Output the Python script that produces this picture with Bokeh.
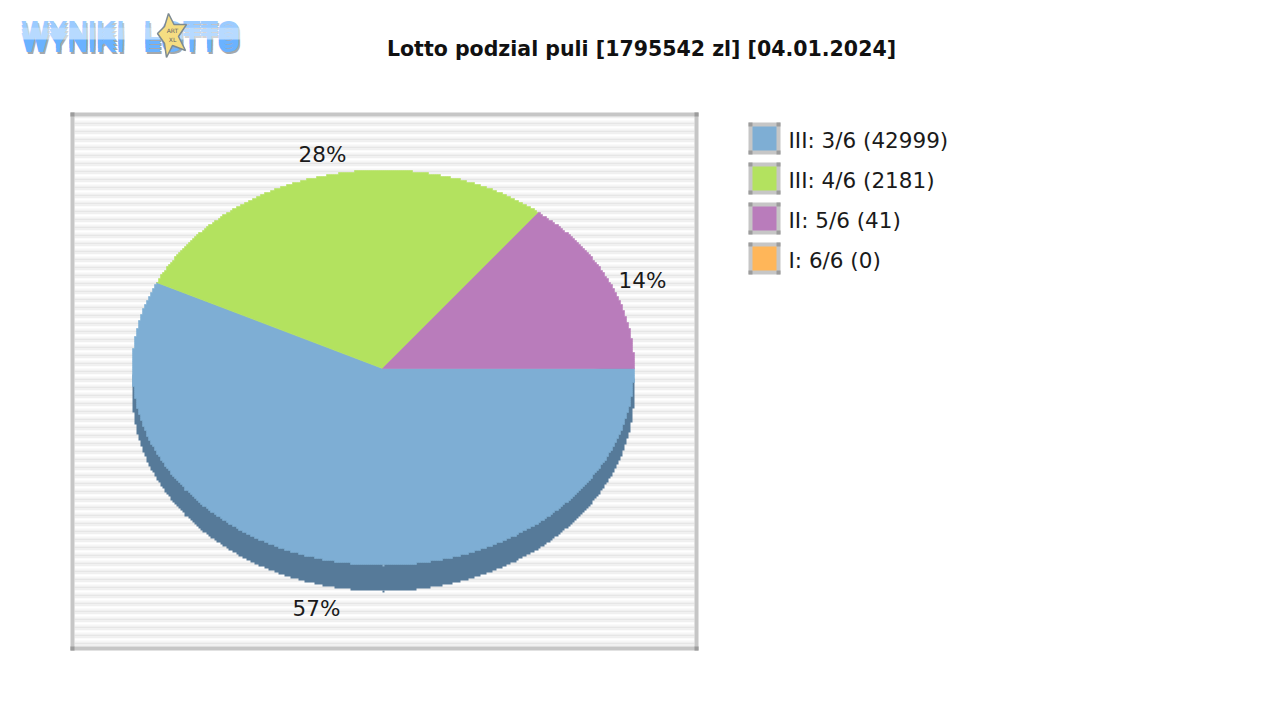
import numpy as np
from bokeh.plotting import figure
from bokeh.models import Range1d
from bokeh.core.properties import value
from bokeh.embed import file_html
from bokeh.resources import INLINE

title = "Lotto podzial puli [1795542 zl] [04.01.2024]"
categories = ["III: 3/6 (42999)", "III: 4/6 (2181)", "II: 5/6 (41)", "I: 6/6 (0)"]
shares = [57.1, 28.5, 14.4, 0.0]
pct_labels = ["57%", "28%", "14%"]
colors = ["#7eaed4", "#b3e25f", "#b97cbb", "#ffb659"]
side_color = "#567a99"

FONT = "DejaVu Sans"
p = figure(width=1264, height=704, x_range=Range1d(0, 1264), y_range=Range1d(704, 0),
           output_backend="svg", toolbar_location=None, min_border=0,
           x_axis_type=None, y_axis_type=None, outline_line_color=None)
p.grid.visible = False
p.background_fill_color = "white"
p.border_fill_color = "white"

# ---------- logo ----------
logo_words = ["WYNIKI", "LOTTO"]
logo_x = [21, 143]
LOGO = "Liberation Sans"
for dx, col in [(1.5, "#a4a8ac"), (0, "#6ab2ff")]:
    for dy in [-6, -2, 2, 6]:
        p.text(x=[x + dx for x in logo_x], y=[35.5 + dy + dx] * 2, text=logo_words,
               text_font=value(LOGO), text_font_style="bold", text_font_size="28.5px",
               text_align="left", text_baseline="middle", text_color=col)
p.quad(left=[18, 18], right=[246, 246], top=[14, 27], bottom=[27, 39],
       fill_color="white", fill_alpha=[0.33, 0.52], line_color=None)
star_x = [168, 173.5, 186, 178, 185, 172, 166, 164, 157, 164]
star_y = [13, 24, 24, 36, 50, 45, 57, 43, 33, 26]
p.patch(star_x, star_y, fill_color="#f5dd82", line_color="#7d8a92", line_width=1.5)
p.text(x=[172, 172], y=[30, 39], text=["ART", "XL"], text_font=value(FONT),
       text_font_size="6px", text_align="center", text_baseline="middle", text_color="#666666")

# ---------- title ----------
p.text(x=[641], y=[48], text=[title], text_font=value(FONT), text_font_style="bold",
       text_font_size="20.5px", text_align="center", text_baseline="middle", text_color="#111111")

# ---------- plot frame with stripes ----------
L, R, T, B, bw = 70, 698, 112, 650, 4
stripe_cols = ["#f0f0f0", "#ffffff", "#f6f6f6", "#e6e6e6"]
ys = np.arange(T + bw, B - bw, 2)
p.quad(left=L + bw, right=R - bw, top=ys, bottom=np.minimum(ys + 2, B - bw),
       fill_color=[stripe_cols[(int(y - 116) // 2) % 4] for y in ys], line_color=None)
p.quad(left=[L, L, L, R - bw], right=[R, R, L + bw, R], top=[T, B - bw, T, T], bottom=[T + bw, B, B, B],
       fill_color="#c6c6c6", line_color=None)
p.quad(left=[L, R - bw, L, R - bw], right=[L + bw, R, L + bw, R],
       top=[T, T, B - bw, B - bw], bottom=[T + bw, T + bw, B, B], fill_color="#9c9c9c", line_color=None)

# ---------- pie ----------
cx, cy, rx, ry, depth = 382.8, 367.2, 251, 197.5, 26

def snap(v):
    return np.round(np.asarray(v) / 2) * 2

def wedge(start, stop, dy=0):
    a = np.linspace(start, stop, max(int((stop - start) * 600), 2))
    ex = snap(cx + rx * np.cos(a))
    ey = snap(cy + dy + ry * np.sin(a))
    # blocky 2px outline, as in the low resolution original
    sx = np.c_[ex[:-1], ex[1:]].ravel()
    sy = np.c_[ey[:-1], ey[:-1]].ravel()
    return (np.r_[snap(cx), sx, ex[-1]], np.r_[snap(cy + dy), sy, ey[-1]])

angles = np.cumsum([0] + shares) / sum(shares) * 2 * np.pi
sx, sy = wedge(angles[0] - 0.15, angles[1], depth)
p.patch(sx, sy, fill_color=side_color, line_color=None)
for i, c in enumerate(colors):
    if shares[i] > 0:
        wx, wy = wedge(angles[i], angles[i + 1])
        p.patch(wx, wy, fill_color=c, line_color=c, line_width=0.6)
# leader ticks at the bottom of the pie
p.quad(left=[382, 382], right=[384, 384], top=[564, 590], bottom=[566, 592],
       fill_color=["#8fb4d0", side_color], line_color=None)

p.text(x=[316, 322, 642], y=[608, 154, 280], text=pct_labels, text_font=value(FONT),
       text_font_size="21.5px", text_align="center", text_baseline="middle", text_color="#1a1a1a")

# ---------- legend ----------
for i, (name, c) in enumerate(zip(categories, colors)):
    y0 = 122 + 40 * i
    p.quad(left=[748], right=[780], top=[y0], bottom=[y0 + 32], fill_color="#c6c6c6", line_color=None)
    p.quad(left=[748, 776, 748, 776], right=[752, 780, 752, 780],
           top=[y0, y0, y0 + 28, y0 + 28], bottom=[y0 + 4, y0 + 4, y0 + 32, y0 + 32],
           fill_color="#9c9c9c", line_color=None)
    p.quad(left=[752], right=[776], top=[y0 + 4], bottom=[y0 + 28], fill_color=c, line_color=None)
    p.text(x=[788], y=[y0 + 18], text=[name], text_font=value(FONT), text_font_size="21.5px",
           text_align="left", text_baseline="middle", text_color="#1a1a1a")

open("out.html", "w").write(file_html(p, INLINE))
